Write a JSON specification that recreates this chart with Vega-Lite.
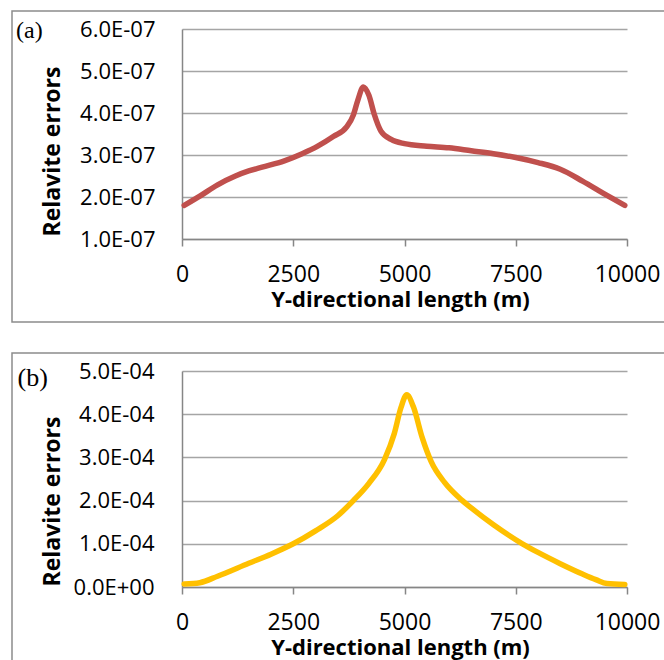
{
  "$schema": "https://vega.github.io/schema/vega-lite/v6.json",
  "padding": {"left": 11, "top": 10, "right": 0, "bottom": 0},
  "spacing": 29,
  "config": {"font": "Open Sans", "background": "white"},
  "vconcat": [
    {
      "width": 700,
      "height": 311,
      "view": {"stroke": "#8c8c8c", "strokeWidth": 1.5},
      "title": {"text": "(a)", "anchor": "start", "frame": "group", "offset": -51, "dx": 4, "font": "Liberation Serif", "fontSize": 24, "fontWeight": "normal", "baseline": "alphabetic", "color": "black"},
      "data": {"values": [
        {"length": 50, "error": 1.80e-7},
        {"length": 400, "error": 2.02e-7},
        {"length": 800, "error": 2.29e-7},
        {"length": 1200, "error": 2.50e-7},
        {"length": 1500, "error": 2.62e-7},
        {"length": 1800, "error": 2.71e-7},
        {"length": 2300, "error": 2.86e-7},
        {"length": 2700, "error": 3.03e-7},
        {"length": 3050, "error": 3.21e-7},
        {"length": 3400, "error": 3.44e-7},
        {"length": 3700, "error": 3.67e-7},
        {"length": 3850, "error": 3.95e-7},
        {"length": 3950, "error": 4.30e-7},
        {"length": 4075, "error": 4.62e-7},
        {"length": 4200, "error": 4.42e-7},
        {"length": 4320, "error": 3.97e-7},
        {"length": 4470, "error": 3.57e-7},
        {"length": 4700, "error": 3.37e-7},
        {"length": 5000, "error": 3.27e-7},
        {"length": 5500, "error": 3.21e-7},
        {"length": 6000, "error": 3.17e-7},
        {"length": 6500, "error": 3.10e-7},
        {"length": 7000, "error": 3.03e-7},
        {"length": 7500, "error": 2.94e-7},
        {"length": 8000, "error": 2.82e-7},
        {"length": 8500, "error": 2.66e-7},
        {"length": 9000, "error": 2.38e-7},
        {"length": 9500, "error": 2.07e-7},
        {"length": 9950, "error": 1.80e-7}
      ]},
      "mark": {"type": "line", "color": "#C0504D", "strokeWidth": 5.5, "strokeCap": "round", "strokeJoin": "round", "interpolate": "monotone"},
      "encoding": {
        "x": {
          "field": "length", "type": "quantitative",
          "scale": {"domain": [0, 10000], "range": [170, 615], "nice": false, "zero": false},
          "axis": {
            "values": [0, 2500, 5000, 7500, 10000], "format": "d", "offset": -83, "grid": false,
            "domainColor": "#868686", "domainWidth": 1.5,
            "tickColor": "#868686", "tickWidth": 1.5, "tickSize": 7,
            "labelFont": "Open Sans", "labelFontSize": 23, "labelColor": "black", "labelPadding": 17,
            "labelFlush": false, "labelOverlap": false,
            "title": "Y-directional length (m)", "titleFont": "Open Sans", "titleFontSize": 22, "titleFontWeight": "bold", "titleColor": "black",
            "titleX": 388, "titleY": 67, "titleBaseline": "alphabetic", "titleAlign": "center"
          }
        },
        "y": {
          "field": "error", "type": "quantitative",
          "scale": {"domain": [1e-7, 6e-7], "range": [228, 18], "nice": false, "zero": false},
          "axis": {
            "values": [1e-7, 2e-7, 3e-7, 4e-7, 5e-7, 6e-7], "offset": -170,
            "grid": true, "gridColor": "#a5a5a5", "gridWidth": 1.5,
            "domain": true, "domainColor": "#868686", "domainWidth": 1.5,
            "ticks": false, "labelPadding": 27,
            "labelFont": "Open Sans", "labelFontSize": 22, "labelColor": "black",
            "labelExpr": "format(datum.value*1e7, '.1f') + 'E-07'",
            "title": "Relavite errors", "titleFont": "Open Sans", "titleFontSize": 23, "titleFontWeight": "bold", "titleColor": "black",
            "titleAngle": 270, "titleX": -123, "titleY": 140, "titleBaseline": "alphabetic", "titleAlign": "center"
          }
        }
      }
    },
    {
      "width": 700,
      "height": 335,
      "view": {"stroke": "#8c8c8c", "strokeWidth": 1.5},
      "title": {"text": "(b)", "anchor": "start", "frame": "group", "offset": -58.5, "dx": 5.5, "font": "Liberation Serif", "fontSize": 26, "fontWeight": "normal", "baseline": "alphabetic", "color": "black"},
      "data": {"values": [
        {"length": 50, "error": 0.07e-4},
        {"length": 400, "error": 0.10e-4},
        {"length": 800, "error": 0.25e-4},
        {"length": 1500, "error": 0.55e-4},
        {"length": 2000, "error": 0.76e-4},
        {"length": 2500, "error": 1.00e-4},
        {"length": 3000, "error": 1.30e-4},
        {"length": 3500, "error": 1.65e-4},
        {"length": 3850, "error": 2.00e-4},
        {"length": 4200, "error": 2.40e-4},
        {"length": 4550, "error": 2.95e-4},
        {"length": 4770, "error": 3.55e-4},
        {"length": 4920, "error": 4.15e-4},
        {"length": 5050, "error": 4.45e-4},
        {"length": 5200, "error": 4.17e-4},
        {"length": 5400, "error": 3.45e-4},
        {"length": 5600, "error": 2.90e-4},
        {"length": 5900, "error": 2.42e-4},
        {"length": 6300, "error": 2.00e-4},
        {"length": 6500, "error": 1.83e-4},
        {"length": 7000, "error": 1.44e-4},
        {"length": 7650, "error": 1.00e-4},
        {"length": 8000, "error": 0.80e-4},
        {"length": 8500, "error": 0.54e-4},
        {"length": 9000, "error": 0.30e-4},
        {"length": 9300, "error": 0.17e-4},
        {"length": 9550, "error": 0.08e-4},
        {"length": 9950, "error": 0.06e-4}
      ]},
      "mark": {"type": "line", "color": "#FFC000", "strokeWidth": 5.5, "strokeCap": "round", "strokeJoin": "round", "interpolate": "monotone"},
      "encoding": {
        "x": {
          "field": "length", "type": "quantitative",
          "scale": {"domain": [0, 10000], "range": [170, 615], "nice": false, "zero": false},
          "axis": {
            "values": [0, 2500, 5000, 7500, 10000], "format": "d", "offset": -101, "grid": false,
            "domainColor": "#868686", "domainWidth": 1.5,
            "tickColor": "#868686", "tickWidth": 1.5, "tickSize": 7,
            "labelFont": "Open Sans", "labelFontSize": 23, "labelColor": "black", "labelPadding": 17,
            "labelFlush": false, "labelOverlap": false,
            "title": "Y-directional length (m)", "titleFont": "Open Sans", "titleFontSize": 22, "titleFontWeight": "bold", "titleColor": "black",
            "titleX": 388, "titleY": 67, "titleBaseline": "alphabetic", "titleAlign": "center"
          }
        },
        "y": {
          "field": "error", "type": "quantitative",
          "scale": {"domain": [0, 5e-4], "range": [234, 18], "nice": false, "zero": false},
          "axis": {
            "values": [0, 1e-4, 2e-4, 3e-4, 4e-4, 5e-4], "offset": -170,
            "grid": true, "gridColor": "#a5a5a5", "gridWidth": 1.5,
            "domain": true, "domainColor": "#868686", "domainWidth": 1.5,
            "ticks": false, "labelPadding": 28,
            "labelFont": "Open Sans", "labelFontSize": 22, "labelColor": "black",
            "labelExpr": "datum.value == 0 ? '0.0E+00' : format(datum.value*1e4, '.1f') + 'E-04'",
            "title": "Relavite errors", "titleFont": "Open Sans", "titleFontSize": 23, "titleFontWeight": "bold", "titleColor": "black",
            "titleAngle": 270, "titleX": -123, "titleY": 148, "titleBaseline": "alphabetic", "titleAlign": "center"
          }
        }
      }
    }
  ]
}
